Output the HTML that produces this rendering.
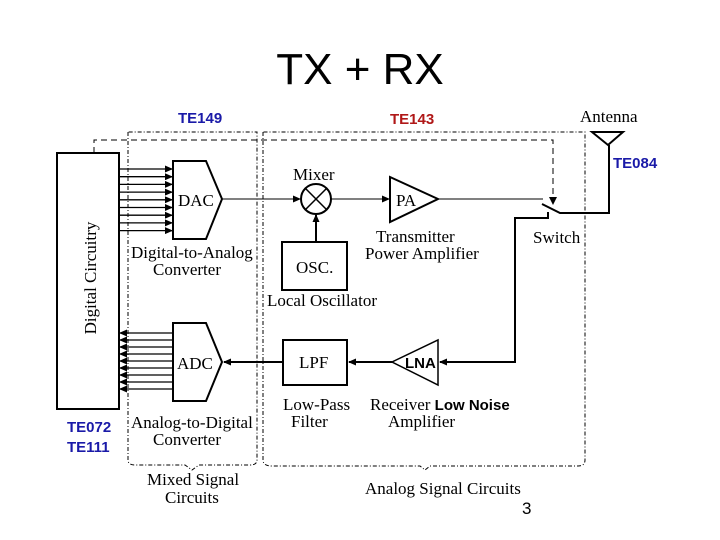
<!DOCTYPE html>
<html><head><meta charset="utf-8"><style>
body{margin:0;background:#fff;width:720px;height:540px;overflow:hidden}
svg{display:block}
.s{font-family:"Liberation Serif",serif;font-size:17px;fill:#000}
.b{font-family:"Liberation Sans",sans-serif;font-weight:bold;font-size:15px}
</style></head><body>
<svg width="720" height="540" viewBox="0 0 720 540">
<defs><marker id="a" markerWidth="8" markerHeight="7" refX="7" refY="3.5" orient="auto" markerUnits="userSpaceOnUse"><path d="M0,0L8,3.5L0,7z" fill="#000"/></marker></defs>
<text x="360" y="84" text-anchor="middle" font-family="Liberation Sans,sans-serif" font-size="44">TX + RX</text>
<text x="178" y="123" class="b" fill="#1a1aa8">TE149</text>
<text x="390" y="124" class="b" fill="#b01818">TE143</text>
<text x="613" y="168" class="b" fill="#1a1aa8">TE084</text>
<text x="67" y="432" class="b" fill="#1a1aa8">TE072</text>
<text x="67" y="452" class="b" fill="#1a1aa8">TE111</text>
<g fill="none" stroke="#000" stroke-width="1" stroke-dasharray="4,2,1,2">
<path d="M128,132V460Q128,465 135,465H185L192,470L199,465H250Q257,465 257,460V132H128"/>
<path d="M263,132V460Q263,466 272,466H420L425,470L430,466H578Q585,466 585,460V132H263"/>
</g>
<path d="M94,153V140H553V203" fill="none" stroke="#000" stroke-dasharray="6,4"/>
<path d="M549,197L553,205L557,197z"/>
<rect x="57" y="153" width="62" height="256" fill="#fff" stroke="#000" stroke-width="2"/>
<text class="s" font-size="19" transform="translate(96,278) rotate(-90)" text-anchor="middle">Digital Circuitry</text>
<g stroke="#000" stroke-width="1.3">
<line x1="119" y1="169" x2="172" y2="169" marker-end="url(#a)"/>
<line x1="119" y1="176.7" x2="172" y2="176.7" marker-end="url(#a)"/>
<line x1="119" y1="184.4" x2="172" y2="184.4" marker-end="url(#a)"/>
<line x1="119" y1="192.1" x2="172" y2="192.1" marker-end="url(#a)"/>
<line x1="119" y1="199.8" x2="172" y2="199.8" marker-end="url(#a)"/>
<line x1="119" y1="207.5" x2="172" y2="207.5" marker-end="url(#a)"/>
<line x1="119" y1="215.2" x2="172" y2="215.2" marker-end="url(#a)"/>
<line x1="119" y1="222.9" x2="172" y2="222.9" marker-end="url(#a)"/>
<line x1="119" y1="230.6" x2="172" y2="230.6" marker-end="url(#a)"/>
<line x1="173" y1="333" x2="120" y2="333" marker-end="url(#a)"/>
<line x1="173" y1="340" x2="120" y2="340" marker-end="url(#a)"/>
<line x1="173" y1="347" x2="120" y2="347" marker-end="url(#a)"/>
<line x1="173" y1="354" x2="120" y2="354" marker-end="url(#a)"/>
<line x1="173" y1="361" x2="120" y2="361" marker-end="url(#a)"/>
<line x1="173" y1="368" x2="120" y2="368" marker-end="url(#a)"/>
<line x1="173" y1="375" x2="120" y2="375" marker-end="url(#a)"/>
<line x1="173" y1="382" x2="120" y2="382" marker-end="url(#a)"/>
<line x1="173" y1="389" x2="120" y2="389" marker-end="url(#a)"/>
</g>
<path d="M173,161H206L222,199L206,239H173Z" fill="#fff" stroke="#000" stroke-width="2"/>
<text x="178" y="206" class="s" font-size="18">DAC</text>
<path d="M173,323H206L222,362L206,401H173Z" fill="#fff" stroke="#000" stroke-width="2"/>
<text x="177" y="369" class="s" font-size="17">ADC</text>
<text x="131" y="258" class="s">Digital-to-Analog</text>
<text x="153" y="275" class="s">Converter</text>
<text x="131" y="428" class="s">Analog-to-Digital</text>
<text x="153" y="445" class="s">Converter</text>
<text x="147" y="485" class="s">Mixed Signal</text>
<text x="165" y="503" class="s">Circuits</text>
<line x1="222" y1="199" x2="300" y2="199" stroke="#000" marker-end="url(#a)"/>
<circle cx="316" cy="199" r="15" fill="#fff" stroke="#000" stroke-width="2"/>
<path d="M305.4,188.4L326.6,209.6M326.6,188.4L305.4,209.6" stroke="#000" stroke-width="1.5"/>
<text x="293" y="180" class="s">Mixer</text>
<rect x="282" y="242" width="65" height="48" fill="#fff" stroke="#000" stroke-width="2"/>
<text x="296" y="273" class="s" font-size="17">OSC.</text>
<line x1="316" y1="242" x2="316" y2="215" stroke="#000" stroke-width="2" marker-end="url(#a)"/>
<text x="267" y="306" class="s">Local Oscillator</text>
<line x1="331" y1="199" x2="389" y2="199" stroke="#000" marker-end="url(#a)"/>
<path d="M390,177L438,199L390,222Z" fill="#fff" stroke="#000" stroke-width="2"/>
<text x="396" y="206" class="s" font-size="18">PA</text>
<text x="376" y="242" class="s">Transmitter</text>
<text x="365" y="259" class="s">Power Amplifier</text>
<line x1="438" y1="199" x2="543" y2="199" stroke="#000"/>
<path d="M542,204L560,213H609V145" fill="none" stroke="#000" stroke-width="2"/>
<path d="M592,132H623L608,145Z" fill="#fff" stroke="#000" stroke-width="2"/>
<text x="580" y="122" class="s">Antenna</text>
<text x="533" y="243" class="s">Switch</text>
<path d="M548,212V218H515V362H440" fill="none" stroke="#000" stroke-width="2" marker-end="url(#a)"/>
<path d="M438,340V385L392,362Z" fill="#fff" stroke="#000" stroke-width="1.5"/>
<text x="405" y="368" font-family="Liberation Sans,sans-serif" font-weight="bold" font-size="15">LNA</text>
<line x1="392" y1="362" x2="349" y2="362" stroke="#000" stroke-width="2" marker-end="url(#a)"/>
<rect x="283" y="340" width="64" height="45" fill="#fff" stroke="#000" stroke-width="2"/>
<text x="299" y="368" class="s">LPF</text>
<line x1="283" y1="362" x2="224" y2="362" stroke="#000" stroke-width="2" marker-end="url(#a)"/>
<text x="283" y="410" class="s">Low-Pass</text>
<text x="291" y="427" class="s">Filter</text>
<text x="370" y="410" class="s">Receiver <tspan font-family="Liberation Sans,sans-serif" font-weight="bold" font-size="15">Low Noise</tspan></text>
<text x="388" y="427" class="s">Amplifier</text>
<text x="365" y="494" class="s">Analog Signal Circuits</text>
<text x="522" y="514" font-family="Liberation Sans,sans-serif" font-size="17">3</text>
</svg>
</body></html>
